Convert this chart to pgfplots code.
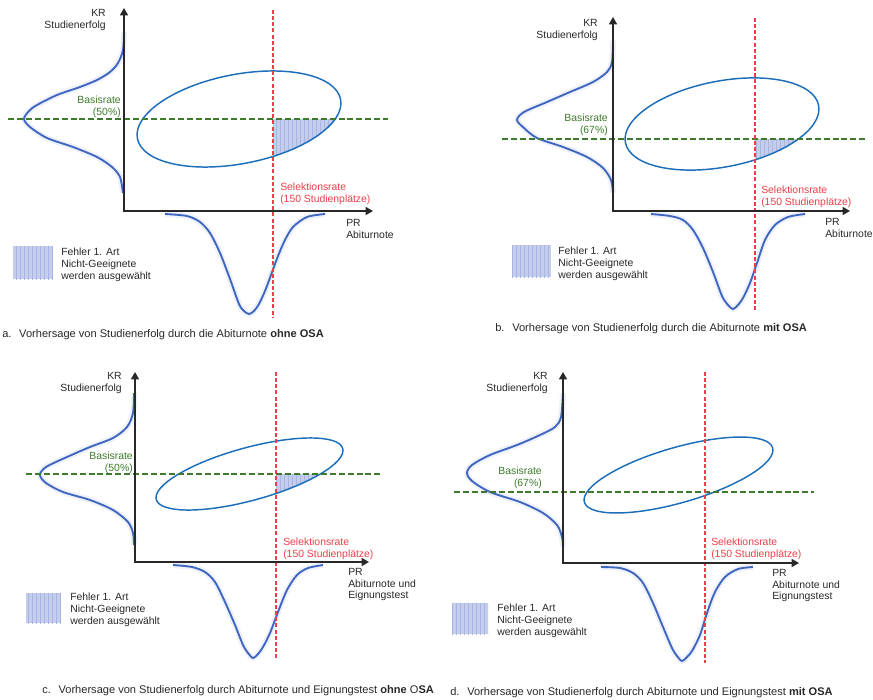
\documentclass[border=0pt]{standalone}
\usepackage{fontspec}
\setmainfont{Liberation Sans}
\usepackage{pgfplots}
\pgfplotsset{compat=1.18}
\usetikzlibrary{arrows.meta,patterns}

\definecolor{gaussblue}{RGB}{62,102,192}
\definecolor{ellblue}{RGB}{28,110,186}
\definecolor{basisgreen}{RGB}{62,122,44}
\definecolor{selred}{RGB}{236,62,72}
\definecolor{hatch}{RGB}{196,205,236}
\definecolor{hatchline}{RGB}{168,182,228}
\definecolor{txt}{RGB}{40,40,40}

\begin{document}
\begin{tikzpicture}[font=\fontsize{7.8}{8.8}\selectfont,
  lbl/.style={inner sep=0pt, text=txt},
  capt/.style={inner sep=0pt, text=txt, font=\fontsize{8.3}{9.5}\selectfont},
  gauss/.style={gaussblue, line width=1.4pt, smooth},
  halo/.style={gaussblue!9, line width=4.5pt, smooth},
  axln/.style={txt, line width=1.1pt, {Triangle[length=5.5pt,width=6pt]}-{Triangle[length=5.5pt,width=6pt]}},
  gdash/.style={basisgreen, line width=1.1pt, dash pattern=on 4.5pt off 2.2pt},
  rdash/.style={selred, line width=1pt, dash pattern=on 3pt off 1.6pt},
  ell/.style={ellblue, line width=1.1pt},
  shade/.style={fill=hatch, postaction={pattern=vertical lines, pattern color=hatchline}}]
\useasboundingbox (0,0) rectangle (654.75pt,524.25pt);
\begin{axis}[at={(0,0)}, anchor=south west, scale only axis,
  width=654.75pt, height=524.25pt,
  xmin=0, xmax=873, ymin=0, ymax=699, y dir=reverse,
  hide axis, clip=false]

% ---------- shaded error regions (under everything else)
\pgfplotsextra{\begin{scope}
  \clip[rotate around={10.9:(axis cs:239,119)}] (axis cs:239,119) ellipse [x radius=77.6pt, y radius=33.5pt];
  \path[shade] (axis cs:273,119) rectangle (axis cs:420,230);
\end{scope}}
\pgfplotsextra{\begin{scope}
  \clip[rotate around={10.9:(axis cs:722,124)}] (axis cs:722,124) ellipse [x radius=73.8pt, y radius=32.2pt];
  \path[shade] (axis cs:755,139) rectangle (axis cs:900,230);
\end{scope}}
\pgfplotsextra{\begin{scope}
  \clip[rotate around={15.3:(axis cs:249.5,474)}] (axis cs:249.5,474) ellipse [x radius=72.5pt, y radius=19.8pt];
  \path[shade] (axis cs:276,474) rectangle (axis cs:420,560);
\end{scope}}
\pgfplotsextra{\begin{scope}
  \clip[rotate around={16.1:(axis cs:678.5,475)}] (axis cs:678.5,475) ellipse [x radius=73.5pt, y radius=20.7pt];
  \path[shade] (axis cs:705,492) rectangle (axis cs:850,560);
\end{scope}}

% legend swatches
\path[shade] (axis cs:13,246) rectangle (axis cs:53,279);
\path[shade] (axis cs:512,245) rectangle (axis cs:551,277);
\path[shade] (axis cs:26,593) rectangle (axis cs:61,623);
\path[shade] (axis cs:452,603) rectangle (axis cs:488,634);

% ---------- panel a
\addplot[halo] coordinates {(124,32) (123,50) (118,63) (110,72) (97,80) (80,87) (57,95) (37,105) (29,111) (24,119) (30,127) (47,138) (73,147) (97,157) (112,167) (120,177) (123,193)};
\addplot[gauss] coordinates {(124,32) (123,50) (118,63) (110,72) (97,80) (80,87) (57,95) (37,105) (29,111) (24,119) (30,127) (47,138) (73,147) (97,157) (112,167) (120,177) (123,193)};
\addplot[halo] coordinates {(165,214) (187,216) (200,222) (210,233) (220,253) (230,279) (239,304) (244,311) (249,314) (254,311) (259,304) (265,291) (271,275) (278,256) (285,240) (293,227) (307,217) (325,214)};
\addplot[gauss] coordinates {(165,214) (187,216) (200,222) (210,233) (220,253) (230,279) (239,304) (244,311) (249,314) (254,311) (259,304) (265,291) (271,275) (278,256) (285,240) (293,227) (307,217) (325,214)};
\draw[ell, rotate around={10.9:(axis cs:239,119)}] (axis cs:239,119) ellipse [x radius=77.6pt, y radius=33.5pt];
\addplot[gdash] coordinates {(8,119) (388,119)};
\addplot[rdash] coordinates {(273,10) (273,317)};
\addplot[axln] coordinates {(124,8) (124,211) (373,211)};
\node[lbl, anchor=north east, align=right] at (axis cs:106,9) {KR\\Studienerfolg};
\node[lbl, anchor=north east, align=right, text=basisgreen] at (axis cs:121,96) {Basisrate\\(50\%)};
\node[lbl, anchor=north west, align=left, text=selred] at (axis cs:280,183) {Selektionsrate\\(150 Studienplätze)};
\node[lbl, anchor=north west, align=left] at (axis cs:346,219) {PR\\Abiturnote};
\node[lbl, anchor=north west, align=left] at (axis cs:61,248) {Fehler 1. Art\\Nicht-Geeignete\\werden ausgewählt};
\node[capt, anchor=north west] at (axis cs:2,329) {a.\hspace{0.7em}Vorhersage von Studienerfolg durch die Abiturnote \textbf{ohne OSA}};

% ---------- panel b
\addplot[halo] coordinates {(613,40) (612,62) (607,72) (593,82) (570,92) (547,102) (524,112) (517,120) (524,128) (537,138) (563,147) (587,157) (603,168) (611,180) (613,193)};
\addplot[gauss] coordinates {(613,40) (612,62) (607,72) (593,82) (570,92) (547,102) (524,112) (517,120) (524,128) (537,138) (563,147) (587,157) (603,168) (611,180) (613,193)};
\addplot[halo] coordinates {(651,214) (670,216) (683,220) (693,230) (703,248) (713,272) (722,296) (728,305) (733,309) (738,305) (743,298) (750,283) (757,263) (765,240) (775,225) (788,217) (805,214)};
\addplot[gauss] coordinates {(651,214) (670,216) (683,220) (693,230) (703,248) (713,272) (722,296) (728,305) (733,309) (738,305) (743,298) (750,283) (757,263) (765,240) (775,225) (788,217) (805,214)};
\draw[ell, rotate around={10.9:(axis cs:722,124)}] (axis cs:722,124) ellipse [x radius=73.8pt, y radius=32.2pt];
\addplot[gdash] coordinates {(502,139) (865,139)};
\addplot[rdash] coordinates {(755,18) (755,311)};
\addplot[axln] coordinates {(613,17) (613,211) (850,211)};
\node[lbl, anchor=north east, align=right] at (axis cs:598,19) {KR\\Studienerfolg};
\node[lbl, anchor=north east, align=right, text=basisgreen] at (axis cs:608,114) {Basisrate\\(67\%)};
\node[lbl, anchor=north west, align=left, text=selred] at (axis cs:761,186) {Selektionsrate\\(150 Studienplätze)};
\node[lbl, anchor=north west, align=left] at (axis cs:825,218) {PR\\Abiturnote};
\node[lbl, anchor=north west, align=left] at (axis cs:558,247) {Fehler 1. Art\\Nicht-Geeignete\\werden ausgewählt};
\node[capt, anchor=north west] at (axis cs:495,323) {b.\hspace{0.7em}Vorhersage von Studienerfolg durch die Abiturnote \textbf{mit OSA}};

% ---------- panel c
\addplot[halo] coordinates {(134,393) (133,413) (127,427) (113,438) (90,447) (67,457) (46,467) (40,475) (46,483) (63,492) (90,500) (113,510) (128,522) (133,533) (134,545)};
\addplot[gauss] coordinates {(134,393) (133,413) (127,427) (113,438) (90,447) (67,457) (46,467) (40,475) (46,483) (63,492) (90,500) (113,510) (128,522) (133,533) (134,545)};
\addplot[halo] coordinates {(173,565) (192,567) (205,572) (215,582) (225,602) (235,625) (243,645) (248,653) (253,658) (258,654) (263,647) (270,633) (278,612) (287,590) (297,575) (308,568) (323,565)};
\addplot[gauss] coordinates {(173,565) (192,567) (205,572) (215,582) (225,602) (235,625) (243,645) (248,653) (253,658) (258,654) (263,647) (270,633) (278,612) (287,590) (297,575) (308,568) (323,565)};
\draw[ell, rotate around={15.3:(axis cs:249.5,474)}] (axis cs:249.5,474) ellipse [x radius=72.5pt, y radius=19.8pt];
\addplot[gdash] coordinates {(26,474) (383,474)};
\addplot[rdash] coordinates {(276,372) (276,660)};
\addplot[axln] coordinates {(135,372) (135,562) (369,562)};
\node[lbl, anchor=north east, align=right] at (axis cs:122,372) {KR\\Studienerfolg};
\node[lbl, anchor=north east, align=right, text=basisgreen] at (axis cs:133,452) {Basisrate\\(50\%)};
\node[lbl, anchor=north west, align=left, text=selred] at (axis cs:283,538) {Selektionsrate\\(150 Studienplätze)};
\node[lbl, anchor=north west, align=left] at (axis cs:348,568) {PR\\Abiturnote und\\Eignungstest};
\node[lbl, anchor=north west, align=left] at (axis cs:70,593) {Fehler 1. Art\\Nicht-Geeignete\\werden ausgewählt};
\node[capt, anchor=north west] at (axis cs:42,685) {c.\hspace{0.7em}Vorhersage von Studienerfolg durch Abiturnote und Eignungstest \textbf{ohne} O\textbf{SA}};

% ---------- panel d
\addplot[halo] coordinates {(563,393) (561,417) (555,427) (540,435) (517,445) (490,455) (472,465) (467,473) (472,481) (490,492) (520,502) (543,513) (557,525) (562,537) (563,547)};
\addplot[gauss] coordinates {(563,393) (561,417) (555,427) (540,435) (517,445) (490,455) (472,465) (467,473) (472,481) (490,492) (520,502) (543,513) (557,525) (562,537) (563,547)};
\addplot[halo] coordinates {(601,567) (620,568) (633,573) (643,583) (653,603) (663,627) (672,648) (677,656) (682,661) (687,657) (692,651) (700,635) (707,613) (715,592) (725,577) (738,569) (753,567)};
\addplot[gauss] coordinates {(601,567) (620,568) (633,573) (643,583) (653,603) (663,627) (672,648) (677,656) (682,661) (687,657) (692,651) (700,635) (707,613) (715,592) (725,577) (738,569) (753,567)};
\draw[ell, rotate around={16.1:(axis cs:678.5,475)}] (axis cs:678.5,475) ellipse [x radius=73.5pt, y radius=20.7pt];
\addplot[gdash] coordinates {(454,492) (814,492)};
\addplot[rdash] coordinates {(705,372) (705,663)};
\addplot[axln] coordinates {(563,372) (563,563) (799,563)};
\node[lbl, anchor=north east, align=right] at (axis cs:548,372) {KR\\Studienerfolg};
\node[lbl, anchor=north east, align=right, text=basisgreen] at (axis cs:542,467) {Basisrate\\(67\%)};
\node[lbl, anchor=north west, align=left, text=selred] at (axis cs:711,538) {Selektionsrate\\(150 Studienplätze)};
\node[lbl, anchor=north west, align=left] at (axis cs:772,569) {PR\\Abiturnote und\\Eignungstest};
\node[lbl, anchor=north west, align=left] at (axis cs:497,604) {Fehler 1. Art\\Nicht-Geeignete\\werden ausgewählt};
\node[capt, anchor=north west] at (axis cs:450,687) {d.\hspace{0.7em}Vorhersage von Studienerfolg durch Abiturnote und Eignungstest \textbf{mit OSA}};

\end{axis}
\end{tikzpicture}
\end{document}
